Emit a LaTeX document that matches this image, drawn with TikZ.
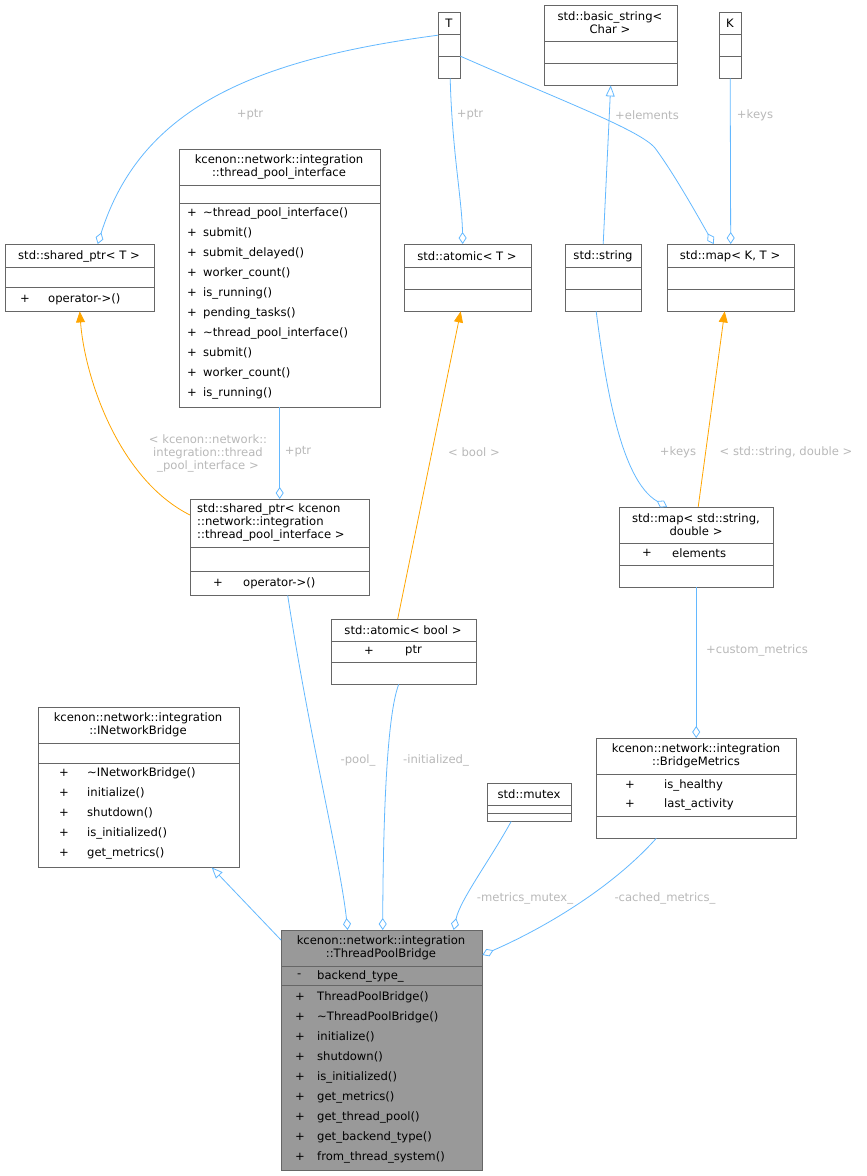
\documentclass[tikz,border=0pt]{standalone}
\usepackage{fontspec}
\setmainfont{DejaVu Sans}
\usetikzlibrary{arrows.meta,calc}
\definecolor{bord}{HTML}{666666}
\definecolor{eb}{HTML}{63B8FF}
\definecolor{eo}{HTML}{FFA500}
\definecolor{lab}{HTML}{B8B8B8}
\newcommand\ubox[6]{\node[draw=bord,fill=#6,inner sep=0,anchor=north west,minimum width=#4pt-#2pt,minimum height=#5pt-#3pt] (#1) at (#2,#3) {};}
\newcommand\sep[3]{\draw[bord] (#1,#3) -- (#2,#3);}
\newcommand\txt[3]{\node[anchor=west,inner sep=0] at (#1,#2) {#3};}
\newcommand\ttl[3]{\node[align=center,inner sep=0] at (#1,#2) {#3};}
\begin{document}
\begin{tikzpicture}[x=1pt,y=-1pt,font=\fontsize{11.6}{13}\selectfont,
 ed/.style={eb,line width=0.8pt},
 dia/.style={ed,-{Diamond[open,length=12pt,width=8pt]}},
 inh/.style={ed,-{Triangle[open,length=11pt,width=9pt]}},
 tmp/.style={eo,line width=0.8pt,-{Triangle[fill=eo,length=11pt,width=9pt]}},
 lb/.style={text=lab,align=center,inner sep=0,font=\fontsize{11.6}{13}\selectfont}]
\useasboundingbox (0,0) rectangle (867,1176);
% boxes
\ubox{T}{438}{12}{460}{78}{white}\sep{438}{460}{34}\sep{438}{460}{56}\ttl{449}{23}{T}
\ubox{bstr}{544}{5}{677}{85}{white}\sep{544}{677}{41}\sep{544}{677}{63}\ttl{610}{23}{std::basic\_string<\\Char >}
\ubox{K}{719}{12}{741}{78}{white}\sep{719}{741}{34}\sep{719}{741}{56}\ttl{730}{23}{K}
\ubox{sptrT}{5}{244}{154}{311}{white}\sep{5}{154}{267}\sep{5}{154}{287}\ttl{79}{256}{std::shared\_ptr< T >}
\txt{20}{299}{+}\txt{48}{299}{operator->()}
\ubox{tpi}{179}{149}{380}{407}{white}\sep{179}{380}{185}\sep{179}{380}{203}
\ttl{279}{167}{kcenon::network::integration\\::thread\_pool\_interface}
\foreach \t [count=\i from 0] in {\textasciitilde thread\_pool\_interface(),submit(),submit\_delayed(),worker\_count(),is\_running(),pending\_tasks(),\textasciitilde thread\_pool\_interface(),submit(),worker\_count(),is\_running()}
 {\txt{187}{213+20*\i}{+}\txt{203}{213+20*\i}{\t}}
\ubox{atomT}{404}{244}{531}{311}{white}\sep{404}{531}{267}\sep{404}{531}{289}\ttl{467}{256}{std::atomic< T >}
\ubox{string}{565}{244}{641}{311}{white}\sep{565}{641}{267}\sep{565}{641}{289}\ttl{603}{256}{std::string}
\ubox{mapKT}{667}{244}{794}{311}{white}\sep{667}{794}{267}\sep{667}{794}{289}\ttl{730}{256}{std::map< K, T >}
\ubox{sptrK}{190}{499}{369}{595}{white}\sep{190}{369}{547}\sep{190}{369}{571}
\node[align=left,inner sep=0,anchor=north west] at (197,503) {std::shared\_ptr< kcenon\\::network::integration\\::thread\_pool\_interface >};
\txt{213}{583}{+}\txt{243}{583}{operator->()}
\ubox{atomB}{331}{619}{476}{684}{white}\sep{331}{476}{641}\sep{331}{476}{662}\ttl{403}{630}{std::atomic< bool >}
\txt{364}{651}{+}\txt{405}{651}{ptr}
\ubox{mapSD}{619}{507}{773}{587}{white}\sep{619}{773}{543}\sep{619}{773}{565}\ttl{696}{525}{std::map< std::string,\\double >}
\txt{642}{553}{+}\txt{672}{553}{elements}
\ubox{INB}{38}{707}{239}{867}{white}\sep{38}{239}{743}\sep{38}{239}{763}\ttl{138}{725}{kcenon::network::integration\\::INetworkBridge}
\foreach \t [count=\i from 0] in {\textasciitilde INetworkBridge(),initialize(),shutdown(),is\_initialized(),get\_metrics()}
 {\txt{59}{773+20*\i}{+}\txt{87}{773+20*\i}{\t}}
\ubox{mutex}{487}{783}{571}{821}{white}\sep{487}{571}{805}\sep{487}{571}{813}\ttl{529}{794}{std::mutex}
\ubox{BM}{596}{738}{796}{838}{white}\sep{596}{796}{774}\sep{596}{796}{816}\ttl{696}{756}{kcenon::network::integration\\::BridgeMetrics}
\txt{625}{785}{+}\txt{664}{785}{is\_healthy}\txt{625}{804}{+}\txt{664}{804}{last\_activity}
\ubox{TPB}{281}{930}{482}{1170}{black!40}\sep{281}{482}{966}\sep{281}{482}{985}\ttl{381}{948}{kcenon::network::integration\\::ThreadPoolBridge}
\txt{297}{976}{-}\txt{317}{976}{backend\_type\_}
\foreach \t [count=\i from 0] in {ThreadPoolBridge(),\textasciitilde ThreadPoolBridge(),initialize(),shutdown(),is\_initialized(),get\_metrics(),get\_thread\_pool(),get\_backend\_type(),from\_thread\_system()}
 {\txt{295}{997+20*\i}{+}\txt{317}{997+20*\i}{\t}}
% edges
\draw[dia] ([yshift=10]T.west) .. controls (250,60) and (140,110) .. ([xshift=18]sptrT.north);
\draw[dia] ([xshift=1]T.south) .. controls (452,150) and (462,200) .. ([xshift=-5]atomT.north);
\draw[dia] ([yshift=-11]T.east) .. controls (560,100) and (640,130) .. (655,148) .. controls (675,175) and (700,220) .. ([xshift=-17]mapKT.north);
\draw[dia] (K.south) -- (mapKT.north);
\draw[inh] (string.north) -- (bstr.south);
\draw[dia] (tpi.south) -- (sptrK.north);
\draw[tmp] ([yshift=-16]sptrK.north west) .. controls (120,480) and (85,380) .. (sptrT.south);
\draw[tmp] ([xshift=-6]atomB.north) -- ([xshift=-7]atomT.south);
\draw[dia] ([xshift=-7]string.south) .. controls (605,380) and (620,480) .. ([xshift=-29]mapSD.north);
\draw[tmp] ([xshift=2]mapSD.north) -- ([xshift=-6]mapKT.south);
\draw[dia] (mapSD.south) -- (BM.north);
\draw[inh] ([yshift=-10]TPB.north west) -- ([xshift=73]INB.south);
\draw[dia] ([xshift=8]sptrK.south) .. controls (310,740) and (340,860) .. ([xshift=-34]TPB.north);
\draw[dia] ([xshift=-5]atomB.south) .. controls (385,720) and (383,850) .. ([xshift=1]TPB.north);
\draw[dia] ([xshift=-18]mutex.south) .. controls (490,860) and (460,900) .. ([xshift=72]TPB.north);
\draw[dia] ([xshift=-40]BM.south) .. controls (610,890) and (540,930) .. ([yshift=-25]TPB.north east);
% labels
\node[lb] at (250,115) {+ptr};
\node[lb] at (470,115) {+ptr};
\node[lb] at (647,115) {+elements};
\node[lb] at (755,115) {+keys};
\node[lb] at (298,452) {+ptr};
\node[lb] at (208,453) {< kcenon::network::\\integration::thread\\\_pool\_interface >};
\node[lb] at (474,452) {< bool >};
\node[lb] at (678,452) {+keys};
\node[lb] at (786,452) {< std::string, double >};
\node[lb] at (757,650) {+custom\_metrics};
\node[lb] at (358,760) {-pool\_};
\node[lb] at (436,760) {-initialized\_};
\node[lb] at (525,898) {-metrics\_mutex\_};
\node[lb] at (665,898) {-cached\_metrics\_};
\end{tikzpicture}
\end{document}
